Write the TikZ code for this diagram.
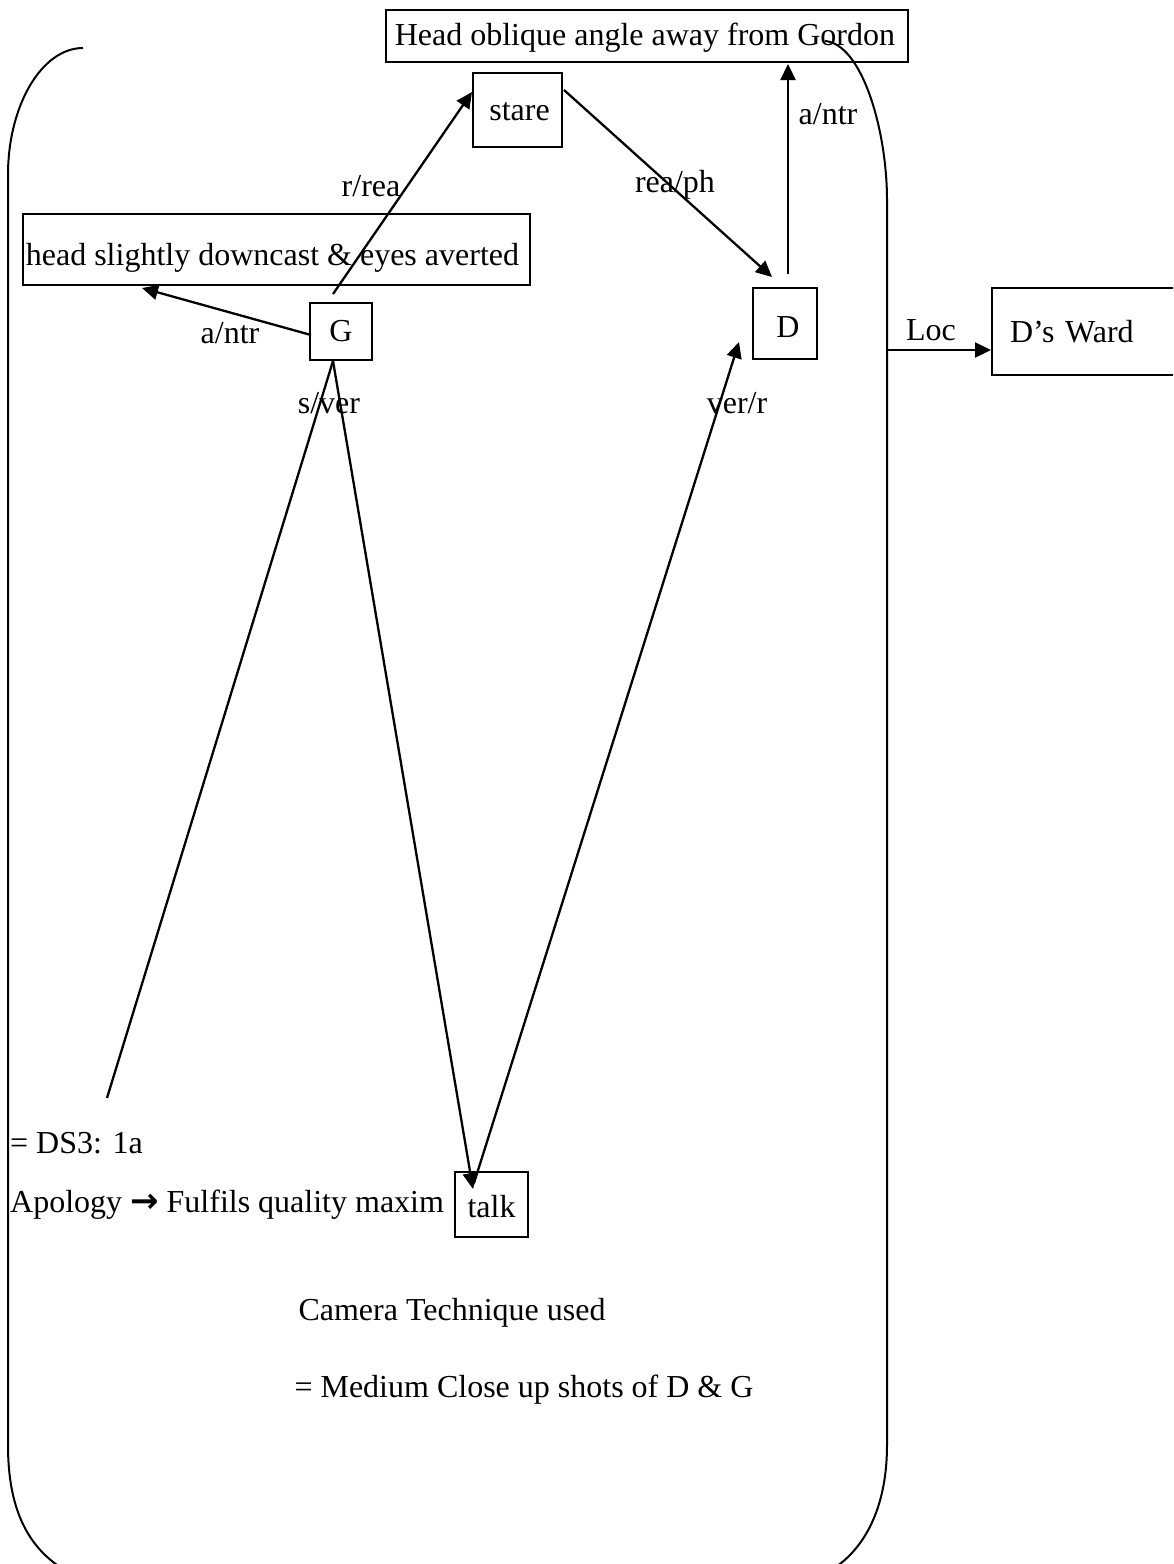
\documentclass[tikz,border=0pt]{standalone}
\usepackage{fontspec}
\setmainfont{Liberation Serif}
\newfontfamily\symf{DejaVu Sans}
\usetikzlibrary{arrows.meta}
\begin{document}
\begin{tikzpicture}[x=1pt,y=-1pt,
  every node/.style={font=\fontsize{32}{36}\selectfont},
  boxnode/.style={draw,line width=2pt,rectangle,inner sep=0pt},
  lbl/.style={inner sep=0pt},
  conn/.style={line width=2.3pt},
  arr/.style={line width=2.3pt,-{Triangle[length=16pt,width=15pt]}},
  frame/.style={line width=2pt}]
\path[use as bounding box] (0,0) rectangle (1173,1564);
\clip (0,0) rectangle (1173,1564);
% frame
\draw[frame] (83,48) .. controls (42,48) and (8,105) .. (8,175) -- (8,1445) .. controls (8,1520) and (35,1562) .. (90,1582);
\draw[frame] (825,41) .. controls (862,44) and (887,130) .. (887,200) -- (887,1445) .. controls (887,1520) and (855,1565) .. (810,1580);
\coordinate (frameR) at (887,350);
% boxes
\node[boxnode,minimum width=522pt,minimum height=52pt,text height=26pt,text depth=7pt] (top) at (647,36) {\hspace*{-4pt}Head oblique angle away from Gordon};
\node[boxnode,minimum width=89pt,minimum height=74pt,text height=28pt,text depth=7pt] (stare) at (517.5,110) {\hspace*{4pt}stare};
\node[boxnode,minimum width=507pt,minimum height=71pt,text height=38pt,text depth=7pt] (head) at (276.5,249.5) {\hspace*{-8pt}head slightly downcast \& eyes averted};
\node[boxnode,minimum width=62pt,minimum height=57pt] (G) at (341,331.5) {G};
\node[boxnode,minimum width=64pt,minimum height=71pt,text height=34pt,text depth=7pt] (D) at (785,323.5) {\hspace*{6pt}D};
\node[boxnode,minimum height=87pt,text width=162pt,inner xsep=18pt,align=left] (ward) at (1091,331.5) {D’s Ward};
\node[boxnode,minimum width=73pt,minimum height=65pt,text height=32pt,text depth=7pt] (talk) at (491.5,1204.5) {talk};
% labels
\node[lbl] (l1) at (828,114) {a/ntr};
\node[lbl] (l2) at (675,185) {rea/ph};
\node[lbl] (l3) at (371,186) {r/rea};
\node[lbl] (l4) at (230,333) {a/ntr};
\node[lbl] (l5) at (329,403) {s/ver};
\node[lbl] (l6) at (737,403) {ver/r};
\node[lbl] (l7) at (931,330) {Loc};
\node[lbl,anchor=west] (ds) at (10,1143) {= DS3: 1a};
\node[lbl,anchor=west] (apol) at (10,1205) {Apology {\symf\bfseries\fontsize{34}{34}\selectfont →} Fulfils quality maxim};
\node[lbl] (cam) at (452,1313) {Camera Technique used};
\node[lbl] (med) at (524,1390) {= Medium Close up shots of D \& G};
\coordinate (dsend) at (107,1098);
% connectors
\draw[arr] ([xshift=-8pt,yshift=8pt]G.north) -- ([yshift=18pt]stare.west);
\draw[arr] ([xshift=2pt,yshift=-3.5pt]G.west) -- ([xshift=-134.5pt,yshift=-2pt]head.south);
\draw[arr] ([xshift=1pt,yshift=20pt]stare.east) -- ([xshift=-13pt,yshift=10pt]D.north);
\draw[arr] ([xshift=3pt,yshift=13pt]D.north) -- ([xshift=141pt,yshift=-1pt]top.south);
\draw[arr] ([xshift=-8pt]G.south) -- ([xshift=-18.5pt,yshift=-18pt]talk.north);
\draw[conn] ([xshift=-8pt]G.south) -- (dsend);
\draw[arr] ([xshift=-17.5pt,yshift=-12pt]talk.north) -- ([xshift=-13pt,yshift=-18.5pt]D.west);
\draw[arr] (frameR) -- ([yshift=-18.5pt]ward.west);
\end{tikzpicture}
\end{document}
